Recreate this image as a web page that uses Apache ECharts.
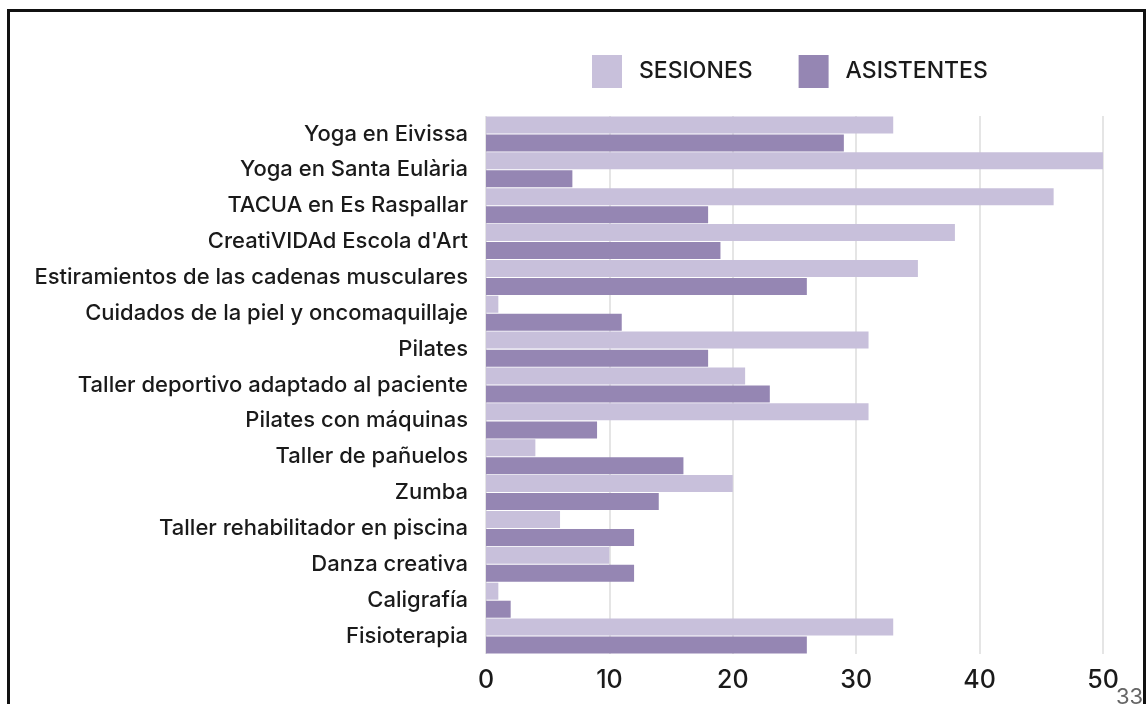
<!DOCTYPE html>
<html lang="es">
<head>
    <meta charset="UTF-8">
    <title>Sesiones y asistentes</title>
    <script src="https://cdn.jsdelivr.net/npm/echarts@6.0.0/dist/echarts.min.js"></script>
    <style>
        html, body { margin: 0; padding: 0; background: #fff; }
        #chart { width: 1147px; height: 704px; }
        #frame {
            position: absolute; left: 7px; top: 9px; width: 1133px; height: 720px;
            border: 3px solid #111; border-bottom: none; pointer-events: none;
        }
    </style>
</head>
<body>
<div id="chart"></div>
<div id="frame"></div>

<script>
    // categories, top to bottom
    var categories = [
        'Yoga en Eivissa',
        'Yoga en Santa Eulària',
        'TACUA en Es Raspallar',
        "CreatiVIDAd Escola d'Art",
        'Estiramientos de las cadenas musculares',
        'Cuidados de la piel y oncomaquillaje',
        'Pilates',
        'Taller deportivo adaptado al paciente',
        'Pilates con máquinas',
        'Taller de pañuelos',
        'Zumba',
        'Taller rehabilitador en piscina',
        'Danza creativa',
        'Caligrafía',
        'Fisioterapia'
    ];
    var sesiones   = [33, 50, 46, 38, 35, 1, 31, 21, 31, 4, 20, 6, 10, 1, 33];
    var asistentes = [29, 7, 18, 19, 26, 11, 18, 23, 9, 16, 14, 12, 12, 2, 26];
    var xTicks = [0, 10, 20, 30, 40, 50];

    var chart = echarts.init(document.getElementById('chart'));
    chart.setOption({
        animation: false,
        textStyle: { fontFamily: 'Inter, "Noto Sans", sans-serif' },
        legend: {
            left: 587,
            top: 50,
            itemWidth: 30,
            itemHeight: 33,
            itemGap: 46,
            icon: 'rect',
            textStyle: { fontSize: 23, fontWeight: 500, color: '#1a1a1a', padding: [0, 0, 0, 12] },
            data: ['SESIONES', 'ASISTENTES']
        },
        grid: { left: 486, right: 44, top: 116, bottom: 50 },
        xAxis: {
            type: 'value',
            min: xTicks[0],
            max: xTicks[xTicks.length - 1],
            interval: 10,
            axisLine: { show: false },
            axisTick: { show: false },
            axisLabel: { fontSize: 25, fontWeight: 500, color: '#1a1a1a', margin: 14 },
            splitLine: { lineStyle: { color: '#dcdcdc', width: 1.5 } }
        },
        yAxis: {
            type: 'category',
            inverse: true,
            data: categories,
            axisLine: { show: false },
            axisTick: { show: false },
            axisLabel: { fontSize: 22, fontWeight: 500, color: '#1a1a1a', margin: 18 }
        },
        series: [
            {
                name: 'SESIONES', type: 'bar', data: sesiones,
                barWidth: 17, barGap: '6%',
                itemStyle: { color: '#c8c0db' }
            },
            {
                name: 'ASISTENTES', type: 'bar', data: asistentes,
                barWidth: 17,
                itemStyle: { color: '#9586b3' }
            }
        ],
        graphic: [{
            type: 'text', left: 1116, top: 686,
            style: { text: '33', fontSize: 22, fill: '#666', fontFamily: 'Inter, sans-serif' }
        }]
    });
</script>
</body>
</html>
